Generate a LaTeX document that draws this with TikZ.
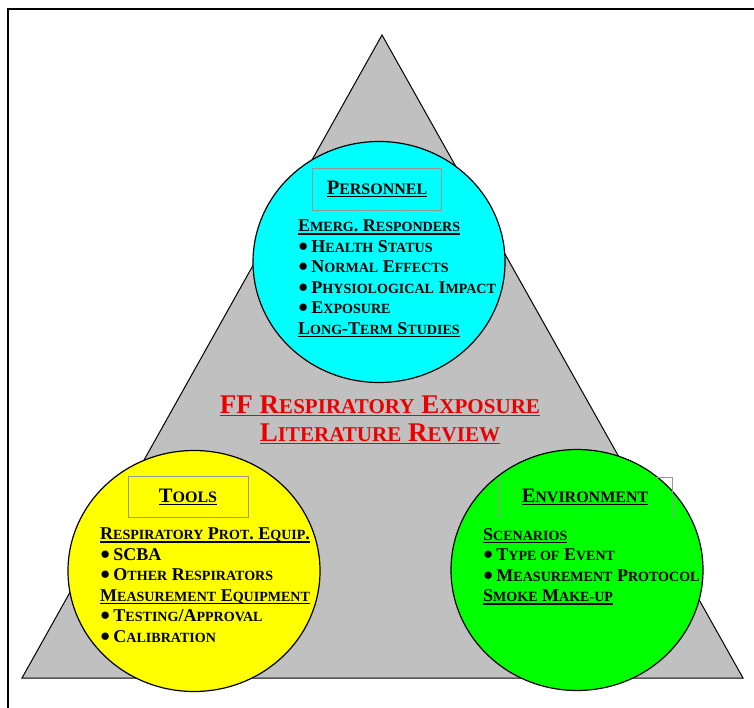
\documentclass[tikz,border=0pt]{standalone}
\usepackage{fontspec}
\setmainfont{Liberation Serif}
\usetikzlibrary{shapes.geometric, positioning}
\definecolor{PanelGray}{RGB}{192,192,192}
\definecolor{DiscCyan}{RGB}{0,255,255}
\definecolor{DiscYellow}{RGB}{255,255,0}
\definecolor{DiscGreen}{RGB}{0,255,0}
\definecolor{BoxGray}{RGB}{150,150,150}
\definecolor{TitleRed}{RGB}{235,0,0}
\makeatletter
\newcommand\lc[1]{{\fontsize{\fpeval{0.78*\f@size}}{\f@baselineskip}\selectfont\MakeUppercase{#1}}}
\makeatother
\newcommand\ulin[1]{\sbox0{#1}\rlap{\usebox0}\rule[-3pt]{\wd0}{1.6pt}}
\newcommand\dotitem{\raisebox{1pt}{\fontsize{17}{17}\selectfont ●}\hspace{3pt}}
\tikzset{
  disc/.style={ellipse, draw, line width=1.2pt, minimum width=252pt, minimum height=241pt, inner sep=0pt},
  labelbox/.style={draw=BoxGray, line width=0.8pt, inner sep=0pt, font=\fontsize{20.5}{22}\selectfont\bfseries},
  itemlist/.style={align=left, anchor=north west, inner sep=0pt, font=\fontsize{18}{20.5}\selectfont\bfseries}
}

\begin{document}
\begin{tikzpicture}[x=1pt, y=-1pt]
  \useasboundingbox (0,0) rectangle (754,708);
  % frame
  \draw[line width=2.5pt] (8,720) -- (8,9) -- (760,9);
  % triangle
  \coordinate (apex) at (382,35);
  \coordinate (baseL) at (22,678);
  \coordinate (baseR) at (743,678);
  \draw[fill=PanelGray, line width=1pt] (apex) -- (baseR) -- (baseL) -- cycle;
  % discs
  \node[disc, fill=DiscCyan] (personnel) at (379,262) {};
  \node[disc, fill=DiscYellow] (tools) at (194,571) {};
  \node[disc, fill=DiscGreen] (environment) at (577,570) {};
  % headings
  \node[labelbox, minimum width=129pt, minimum height=42pt] (personnel head) at (377,189) {\ulin{P\lc{ersonnel}}};
  \node[labelbox, minimum width=120pt, minimum height=41pt] (tools head) at (188,497) {\ulin{T\lc{ools}}};
  \node[labelbox, minimum width=174pt, minimum height=40pt] (environment head) at (585,497) {\ulin{E\lc{nvironment}}};
  % lists
  \node[itemlist] (personnel list) at (298,220) {%
    \ulin{E\lc{merg}. R\lc{esponders}}\\
    \dotitem H\lc{ealth} S\lc{tatus}\\
    \dotitem N\lc{ormal} E\lc{ffects}\\
    \dotitem P\lc{hysiological} I\lc{mpact}\\
    \dotitem E\lc{xposure}\\
    \ulin{L\lc{ong}-T\lc{erm} S\lc{tudies}}};
  \node[itemlist] (tools list) at (100,528) {%
    \ulin{R\lc{espiratory} P\lc{rot}. E\lc{quip}.}\\
    \dotitem SCBA\\
    \dotitem O\lc{ther} R\lc{espirators}\\
    \ulin{M\lc{easurement} E\lc{quipment}}\\
    \dotitem T\lc{esting}/A\lc{pproval}\\
    \dotitem C\lc{alibration}};
  \node[itemlist] (environment list) at (483,528) {%
    \ulin{S\lc{cenarios}}\\
    \dotitem T\lc{ype of} E\lc{vent}\\
    \dotitem M\lc{easurement} P\lc{rotocol}\\
    \ulin{S\lc{moke} M\lc{ake-up}}};
  % title
  \node[align=center, text=TitleRed, inner sep=0pt, font=\fontsize{27}{28}\selectfont\bfseries] (review) at (380,420)
    {\ulin{FF R\lc{espiratory} E\lc{xposure}}\\ \ulin{L\lc{iterature} R\lc{eview}}};
\end{tikzpicture}
\end{document}
